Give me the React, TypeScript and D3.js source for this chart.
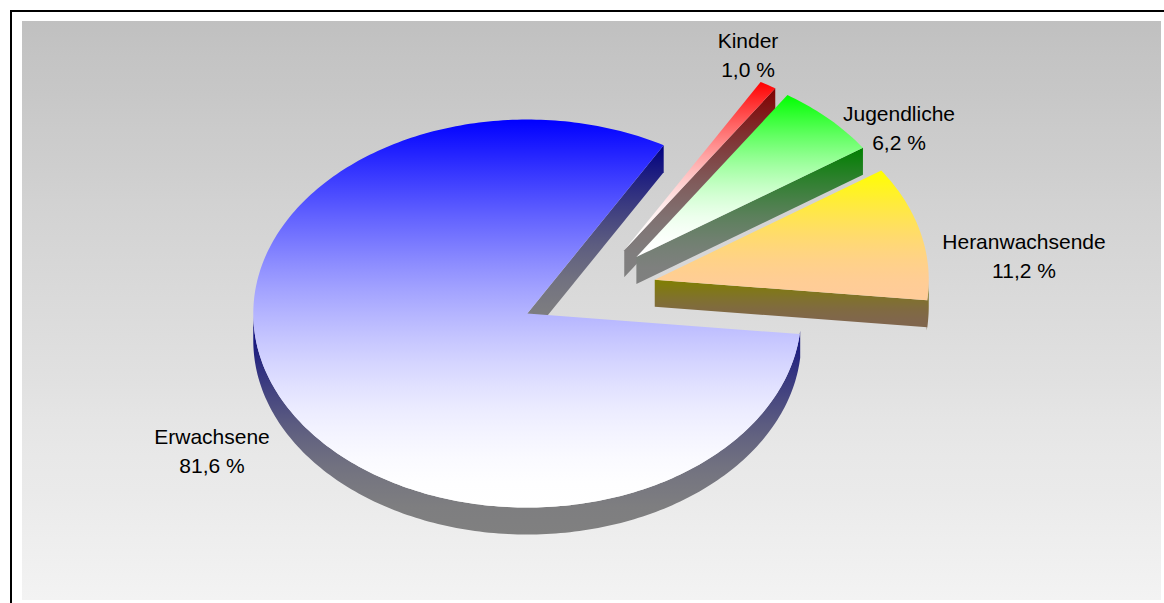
import React from "react";
import * as d3 from "d3";

// Werte aus dem Diagramm
const categories = ["Kinder", "Jugendliche", "Heranwachsende", "Erwachsene"];
const shares = [1.0, 6.2, 11.2, 81.6];
const shareLabels = ["1,0 %", "6,2 %", "11,2 %", "81,6 %"];

const topColors = ["#ff0000", "#00ff00", "#ffff00", "#0000ff"];
const bottomColors = ["#ffffff", "#ffffff", "#ffcc99", "#ffffff"];

const width = 1164;
const height = 603;
const center = { x: 588.3, y: 291.5 };
const radiusX = 274;
const radiusY = 194;
const depth = 27;
const explode = 0.25;
const startDeg = 29.85;

const labelPos = [
  { x: 748, y: 48 },
  { x: 899, y: 121 },
  { x: 1024, y: 249 },
  { x: 212, y: 444 },
];

const halve = (c: string) => {
  const rgb = d3.rgb(c);
  return d3.rgb(rgb.r / 2, rgb.g / 2, rgb.b / 2).formatHex();
};

const pie = d3
  .pie<number>()
  .sort(null)
  .startAngle((startDeg * Math.PI) / 180)
  .endAngle((startDeg * Math.PI) / 180 + 2 * Math.PI);

const line = d3.line();

// SVG-Verlaeufe sind linear, das Original nicht: deshalb viele Stops
const stopOffsets = d3.range(0, 1.0001, 0.0625);
const Gradient = ({
  id,
  mix,
  ease = (t: number) => t,
}: {
  id: string;
  mix: (t: number) => string;
  ease?: (t: number) => number;
}) => (
  <linearGradient id={id} x1="0" y1="0" x2="0" y2="1">
    {stopOffsets.map((t) => (
      <stop key={t} offset={t} stopColor={mix(ease(t))} />
    ))}
  </linearGradient>
);

const App = () => {
  const slices = pie(shares);

  const parts = slices.map((s, i) => {
    const mid = (s.startAngle + s.endAngle) / 2;
    const cx = center.x + explode * radiusX * Math.sin(mid);
    const cy = center.y - explode * radiusY * Math.cos(mid);
    const pt = (a: number, dy = 0): [number, number] => [
      cx + radiusX * Math.sin(a),
      cy - radiusY * Math.cos(a) + dy,
    ];
    const steps = Math.max(4, Math.ceil(((s.endAngle - s.startAngle) * 180) / Math.PI));
    const arcAngles = d3.range(steps + 1).map((k) => s.startAngle + ((s.endAngle - s.startAngle) * k) / steps);

    const face = line([[cx, cy], ...arcAngles.map((a) => pt(a))])! + "Z";

    // Seitenwaende: nur was zum Betrachter zeigt
    const walls: string[] = [];
    const radialWall = (a: number) =>
      line([[cx, cy], pt(a), pt(a, depth), [cx, cy + depth]])! + "Z";
    if (Math.sin(s.endAngle) > 0) walls.push(radialWall(s.endAngle));
    if (Math.sin(s.startAngle) < 0) walls.push(radialWall(s.startAngle));

    const front = arcAngles.filter((a) => Math.cos(a) < 0);
    if (front.length > 1) {
      const lo = Math.max(front[0] - (arcAngles[1] - arcAngles[0]), Math.PI / 2);
      const hi = Math.min(front[front.length - 1] + (arcAngles[1] - arcAngles[0]), (3 * Math.PI) / 2);
      const outer = [lo, ...front, hi];
      walls.push(
        line([...outer.map((a) => pt(a)), ...outer.slice().reverse().map((a) => pt(a, depth))])! + "Z"
      );
    }
    return { face, walls, i };
  });

  return (
    <svg
      width={width}
      height={height}
      style={{ position: "absolute", left: 0, top: 0 }}
      fontFamily="'Liberation Sans', Arial, sans-serif"
    >
      <defs>
        <Gradient id="bg" mix={d3.interpolateRgb.gamma(2.2)("#c0c0c0", "#f3f3f3")} />
        {categories.map((_, i) => (
          <Gradient
            key={i}
            id={`face${i}`}
            mix={d3.interpolateRgb(topColors[i], bottomColors[i])}
            ease={d3.easeSinOut}
          />
        ))}
        {categories.map((_, i) => (
          <Gradient
            key={i}
            id={`wall${i}`}
            mix={d3.interpolateRgb(halve(topColors[i]), halve(bottomColors[i]))}
            ease={d3.easeSinOut}
          />
        ))}
      </defs>

      <rect x={0} y={0} width={width} height={height} fill="#ffffff" />
      <rect x={10} y={10} width={width - 10} height={2} fill="#000000" />
      <rect x={10} y={10} width={2} height={height - 10} fill="#000000" />
      <rect x={22} y={21} width={1139} height={579} fill="url(#bg)" />

      {parts.map((p) => (
        <g key={categories[p.i]}>
          {p.walls.map((d, k) => (
            <path key={k} d={d} fill={`url(#wall${p.i})`} />
          ))}
          <path d={p.face} fill={`url(#face${p.i})`} />
        </g>
      ))}

      {categories.map((c, i) => (
        <text key={c} x={labelPos[i].x} y={labelPos[i].y} textAnchor="middle" fontSize={21} fill="#000000">
          <tspan x={labelPos[i].x}>{c}</tspan>
          <tspan x={labelPos[i].x} dy={28.5}>
            {shareLabels[i]}
          </tspan>
        </text>
      ))}
    </svg>
  );
};

export default App;
